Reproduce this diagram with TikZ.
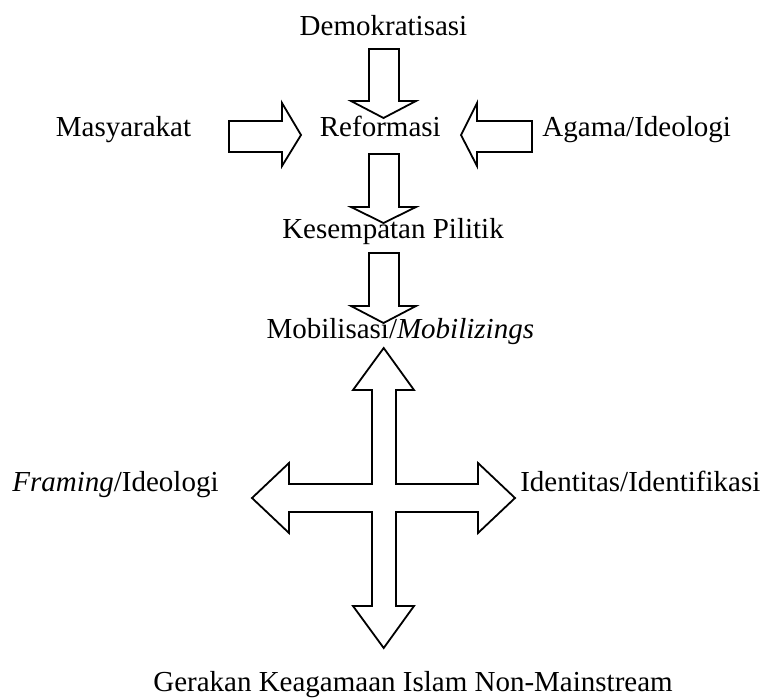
\documentclass[tikz,border=0pt]{standalone}
\usepackage{fontspec}
\setmainfont{Liberation Serif}
\begin{document}
\begin{tikzpicture}[x=1pt,y=-1pt,
  lbl/.style={anchor=base,inner sep=0pt,font=\fontsize{29}{34}\selectfont},
  blk/.style={draw=black,line width=1.8pt,line join=miter,fill=white}]
\useasboundingbox (0,0) rectangle (765,697);
% labels
\node[lbl] (demo) at (383.5,35) {Demokratisasi};
\node[lbl] (masy) at (123.5,136) {Masyarakat};
\node[lbl] (ref) at (380.3,136.5) {Reformasi};
\node[lbl] (agama) at (636.7,136.5) {Agama/Ideologi};
\node[lbl] (kesem) at (393,238.3) {Kesempatan Pilitik};
\node[lbl] (mobil) at (400.3,338.3) {Mobilisasi/\textit{Mobilizings}};
\node[lbl] (fram) at (115.5,491.7) {\textit{Framing}/Ideologi};
\node[lbl] (ident) at (640.3,491.7) {Identitas/Identifikasi};
\node[lbl] (gerak) at (413,691) {Gerakan Keagamaan Islam Non-Mainstream};
% down block arrows
\foreach \t/\b/\p in {49/101/118, 154/207/223, 253/306/323}{
  \draw[blk] (369,\t) -- (399,\t) -- (399,\b) -- (416,\b) -- (383.5,\p)
    -- (351,\b) -- (369,\b) -- cycle;
}
% right-pointing arrow from Masyarakat
\draw[blk] (229,121) -- (282,121) -- (282,103) -- (301,135) -- (282,166)
  -- (282,152) -- (229,152) -- cycle;
% left-pointing arrow from Agama/Ideologi
\draw[blk] (532,121) -- (477,121) -- (477,103) -- (461,135) -- (477,166)
  -- (477,152) -- (532,152) -- cycle;
% four-way cross arrow
\draw[blk] (383.7,348) -- (414,390) -- (396,390) -- (396,484) -- (478,484)
  -- (478,463) -- (515,498) -- (478,533) -- (478,512) -- (396,512)
  -- (396,606) -- (414,606) -- (383.7,648) -- (353,606) -- (372,606)
  -- (372,512) -- (289,512) -- (289,533) -- (252,498) -- (289,463)
  -- (289,484) -- (372,484) -- (372,390) -- (353,390) -- cycle;
\end{tikzpicture}
\end{document}
